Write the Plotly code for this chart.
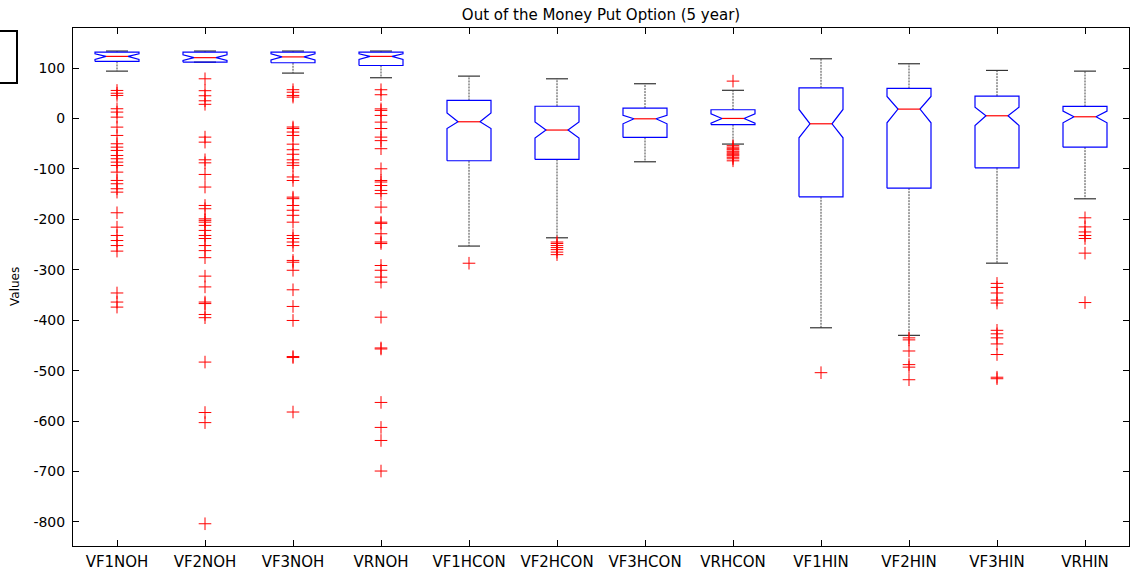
import plotly.graph_objects as go

# Notched box plot statistics for each strategy
names = ["VF1NOH", "VF2NOH", "VF3NOH", "VRNOH", "VF1HCON", "VF2HCON",
         "VF3HCON", "VRHCON", "VF1HIN", "VF2HIN", "VF3HIN", "VRHIN"]
q3 = [131.5, 131.5, 131.5, 131.5, 35.7, 24.2, 20.5, 17.2, 60.8, 59.5, 44.2, 23.8]
notch_hi = [128, 126, 128, 128, 11, -7, 6, 9, 17.8, 43.6, 22.4, 14.5]
median = [123, 120.5, 122, 123, -6.6, -23, -0.7, 0, -10.6, 18.5, 5.3, 3.3]
notch_lo = [117, 115, 116, 117, -20, -39, -10.6, -9.3, -38.3, -8.6, -13.9, -8.6]
q1 = [113, 111.6, 110.4, 105, -83.9, -81.3, -37.7, -12.2, -155.3, -138.2, -97.8, -56.9]
whisk_hi = [133.6, 133.6, 133.6, 133.6, 83.9, 78.6, 68.8, 55.8, 118.3, 108.4, 95.2, 93.8]
whisk_lo = [93.8, 111.6, 89.9, 80.7, -253, -236.6, -85.9, -50.8, -415, -430, -286.9, -159.3]

outliers = [
    [55.5, 50, 45.6, 19.2, 12.6, 2.6, -17.2, -33.7, -50.2, -56.9, -63.4, -73.4, -79.9,
     -86.6, -93.2, -106.4, -122.9, -129.5, -139.4, -146.1, -187, -215.5, -232, -242,
     -252, -263, -346, -364, -374],
    [78.6, 55, 45, 35, 28, -37, -47, -82, -88, -111, -136, -172.5, -179, -199, -202,
     -205.6, -212, -222, -232, -238, -252, -262, -276, -312.6, -334, -364, -367,
     -388.6, -395, -483, -583, -603, -803.5],
    [57, 52, 45.6, 42.3, -17, -20, -27, -33.7, -51, -62, -71, -82, -88, -93, -116,
     -123, -156, -159, -172.5, -182, -192, -205.6, -232, -238, -245, -252, -281.5,
     -285, -301, -339.7, -372.7, -400.5, -472, -474, -582],
    [56.9, 47, 19, 15.9, 6, -7.3, -20, -37, -44, -60, -99.8, -123, -126, -133, -142.7,
     -149, -175.8, -205.6, -208, -228.6, -245, -248, -291.5, -301, -314.6, -324.5,
     -394, -455, -457, -563, -612.5, -638.4, -699],
    [-287],
    [-245, -248, -252, -256, -260, -265, -270],
    [],
    [74, -54, -57, -60, -62, -65, -67, -70, -72, -74, -77, -80, -84],
    [-504],
    [-435, -439, -461, -488, -493, -518],
    [-327, -335, -346, -360, -366, -420, -427, -435, -447, -468, -513, -516],
    [-197, -215, -225, -232, -238, -267, -365],
]

y_ticks = [-800, -700, -600, -500, -400, -300, -200, -100, 0, 100]
y_ticklabels = ["-800", "-700", "-600", "-500", "-400", "-300", "-200", "-100", "0", "100"]

BOX_W = 0.25      # half-width of each box
NOTCH_W = 0.125   # half-width at the notch waist
CAP_W = 0.125     # half-width of whisker caps

fig = go.Figure()

wx, wy, cx, cy, bx, by, mx, my = [], [], [], [], [], [], [], []
for i in range(len(names)):
    x = i + 1
    # whiskers (dashed) from box edges to the extreme values
    wx += [x, x, None, x, x, None]
    wy += [q3[i], whisk_hi[i], None, q1[i], whisk_lo[i], None]
    # caps
    cx += [x - CAP_W, x + CAP_W, None, x - CAP_W, x + CAP_W, None]
    cy += [whisk_hi[i], whisk_hi[i], None, whisk_lo[i], whisk_lo[i], None]
    # notched box outline
    bx += [x - BOX_W, x - BOX_W, x - NOTCH_W, x - BOX_W, x - BOX_W,
           x + BOX_W, x + BOX_W, x + NOTCH_W, x + BOX_W, x + BOX_W, x - BOX_W, None]
    by += [q1[i], notch_lo[i], median[i], notch_hi[i], q3[i],
           q3[i], notch_hi[i], median[i], notch_lo[i], q1[i], q1[i], None]
    # median
    mx += [x - NOTCH_W, x + NOTCH_W, None]
    my += [median[i], median[i], None]

fig.add_trace(go.Scatter(x=wx, y=wy, mode="lines",
                         line=dict(color="#444444", width=1, dash="2px,1px"),
                         hoverinfo="skip"))
fig.add_trace(go.Scatter(x=cx, y=cy, mode="lines",
                         line=dict(color="#333333", width=1.2), hoverinfo="skip"))
fig.add_trace(go.Scatter(x=bx, y=by, mode="lines",
                         line=dict(color="#0000ff", width=1.2), hoverinfo="skip"))
fig.add_trace(go.Scatter(x=mx, y=my, mode="lines",
                         line=dict(color="#ff0000", width=1.2), hoverinfo="skip"))

ox, oy = [], []
for i, vals in enumerate(outliers):
    ox += [i + 1] * len(vals)
    oy += vals
fig.add_trace(go.Scatter(x=ox, y=oy, mode="markers",
                         marker=dict(symbol="cross-thin", size=9, color="#ff0000",
                                     line=dict(color="#ff0000", width=1))))

fig.update_layout(
    width=1135, height=582,
    margin=dict(l=73, r=6, t=28, b=36),
    paper_bgcolor="white", plot_bgcolor="white",
    showlegend=False,
    font=dict(family="DejaVu Sans", color="black"),
    title=dict(text="Out of the Money Put Option (5 year)",
               x=0.5, xref="paper", xanchor="center",
               y=1 - 15 / 582, yref="container", yanchor="middle",
               font=dict(size=15, family="DejaVu Sans", color="black")),
    xaxis=dict(range=[0.5, 12.5], tickmode="array",
               tickvals=list(range(1, len(names) + 1)), ticktext=names,
               showline=True, linecolor="black", linewidth=1, mirror="ticks",
               ticks="inside", ticklen=6, tickcolor="black", showgrid=False,
               zeroline=False, tickfont=dict(size=15, family="DejaVu Sans"),
               ticklabelstandoff=2),
    yaxis=dict(range=[-847.6, 179.3], tickmode="array",
               tickvals=y_ticks, ticktext=y_ticklabels,
               showline=True, linecolor="black", linewidth=1, mirror="ticks",
               ticks="inside", ticklen=6, tickcolor="black", showgrid=False,
               zeroline=False, tickfont=dict(size=14, family="DejaVu Sans"),
               ticklabelstandoff=4),
    annotations=[dict(text="Values", textangle=-90, x=(15 - 73) / 1056, y=0.5,
                      xref="paper", yref="paper", showarrow=False,
                      xanchor="center", yanchor="middle",
                      font=dict(size=12, family="DejaVu Sans"))],
    shapes=[dict(type="rect", xref="paper", yref="paper",
                 x0=(-6 - 73) / 1056, x1=(17 - 73) / 1056,
                 y0=(546 - 83) / 518, y1=(546 - 31) / 518,
                 line=dict(color="black", width=2), fillcolor="rgba(0,0,0,0)")],
)

fig.write_html("out.html")
